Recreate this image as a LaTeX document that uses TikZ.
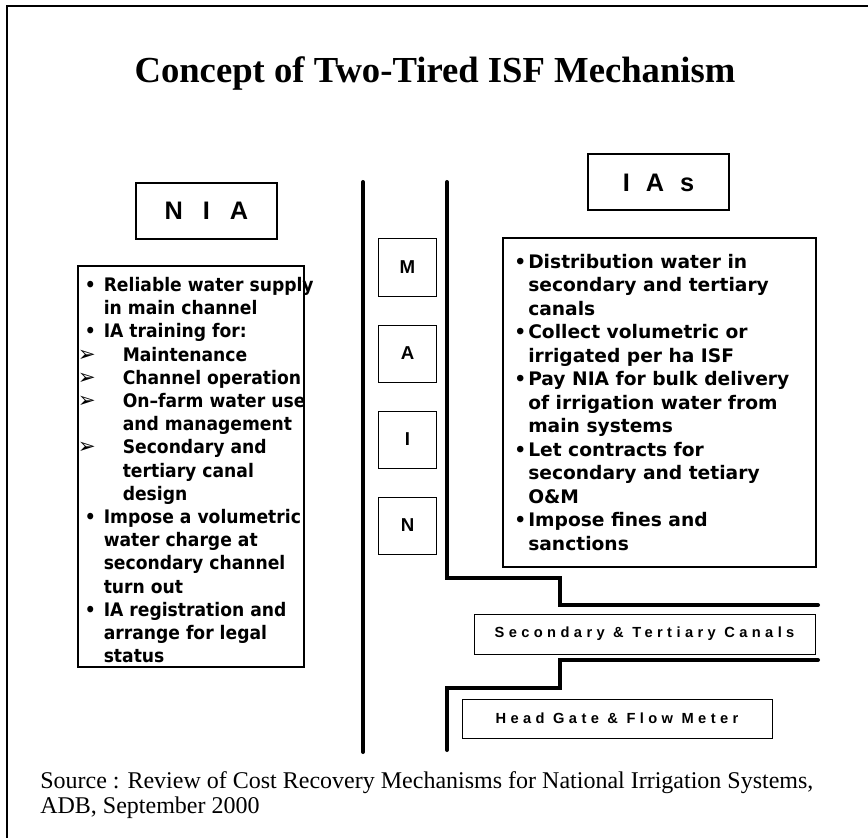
\documentclass[tikz,border=0pt]{standalone}
\usepackage{fontspec}
\setmainfont{Liberation Serif}
\newfontfamily\bodyfont{DejaVu Sans}
\newfontfamily\narrowfont[FakeStretch=0.92]{DejaVu Sans}
\newfontfamily\labelfont{Liberation Sans}
\newfontfamily\gapfont[LetterSpace=30]{Liberation Sans}
\usetikzlibrary{positioning}
\tikzset{node distance=21pt}
\tikzset{
  frame/.style={draw, line width=1.5pt},
  headbox/.style={draw, line width=1.5pt, minimum width=105.75pt, minimum height=42pt,
    font=\labelfont\bfseries\fontsize{19}{19}\selectfont},
  letterbox/.style={draw, line width=0.75pt, minimum width=43.5pt, minimum height=42.75pt,
    font=\labelfont\bfseries\fontsize{14}{14}\selectfont},
  listbox/.style={draw, line width=1.5pt, anchor=north west, inner sep=0pt},
  listtext/.style={anchor=north west, align=left, inner sep=0pt,
    font=\bodyfont\bfseries\fontsize{14}{17.6}\selectfont},
  canalbox/.style={draw, line width=0.75pt, inner sep=0pt,
    font=\gapfont\bfseries\fontsize{11}{11}\selectfont},
  wall/.style={line width=3pt, line cap=round}
}
\newcommand{\bitem}[1]{\hspace*{5.25pt}\makebox[14.25pt][l]{•}#1}
\newcommand{\bmore}[1]{\hspace*{19.5pt}#1}
\newcommand{\aitem}[1]{\makebox[33.75pt][l]{{\bodyfont\mdseries\fontsize{16}{16}\selectfont ➢}}#1}
\newcommand{\amore}[1]{\hspace*{33.75pt}#1}
\newcommand{\ritem}[1]{\makebox[10.5pt][l]{•}#1}
\newcommand{\rmore}[1]{\hspace*{10.5pt}#1}

\begin{document}
\begin{tikzpicture}[x=0.75pt,y=-0.75pt]
  \useasboundingbox (0,0) rectangle (868,838);
  \draw[frame] (7,6) rectangle (890,860);
  \node (title) at (435,73) {\fontsize{27.5}{30}\selectfont\bfseries Concept of Two-Tired ISF Mechanism};

  % the two tiers
  \node[headbox] (nia) at (206.5,211) {N\hspace{15pt}I\hspace{15pt}A};
  \node[headbox] (ias) at (658.5,182.5) {I\hspace{12pt}A\hspace{12pt}s};

  \node[listbox, minimum width=169.5pt, minimum height=301pt] (niabox) at (77,265) {};
  \node[listtext, font=\narrowfont\bfseries\fontsize{14}{17.4}\selectfont] (niatext) at (77.5,277) {%
    \bitem{Reliable water supply}\\
    \bmore{in main channel}\\
    \bitem{IA training for:}\\
    \aitem{Maintenance}\\
    \aitem{Channel operation}\\
    \aitem{On–farm water use}\\
    \amore{and management}\\
    \aitem{Secondary and}\\
    \amore{tertiary canal}\\
    \amore{design}\\
    \bitem{Impose a volumetric}\\
    \bmore{water charge at}\\
    \bmore{secondary channel}\\
    \bmore{turn out}\\
    \bitem{IA registration and}\\
    \bmore{arrange for legal}\\
    \bmore{status}};

  \node[listbox, minimum width=234.75pt, minimum height=246.75pt] (iasbox) at (502,237) {};
  \node[listtext] (iastext) at (514,254) {%
    \ritem{Distribution water in}\\
    \rmore{secondary and tertiary}\\
    \rmore{canals}\\
    \ritem{Collect volumetric or}\\
    \rmore{irrigated per ha ISF}\\
    \ritem{Pay NIA for bulk delivery}\\
    \rmore{of irrigation water from}\\
    \rmore{main systems}\\
    \ritem{Let contracts for}\\
    \rmore{secondary and tetiary}\\
    \rmore{O\&M}\\
    \ritem{Impose fines and}\\
    \rmore{sanctions}};

  % main canal
  \draw[wall] (363,182) -- (363,752);
  \draw[wall] (447,182) -- (447,578) -- (560,578) -- (560,605) -- (818,605);
  \draw[wall] (818,660) -- (560,660) -- (560,688) -- (447,688) -- (447,750);

  \node[letterbox] (m) at (407.5,267.5) {M};
  \node[letterbox] (a) [below=of m] {A};
  \node[letterbox] (i) [below=of a] {I};
  \node[letterbox] (n) [below=of i] {N};

  \node[canalbox, minimum width=255.75pt, minimum height=30pt] (canals) at (644.5,634) {Secondary \& Tertiary Canals};
  \node[canalbox, minimum width=232.5pt, minimum height=29.25pt] (gate) at (617,718.5) {Head Gate \& Flow Meter};

  \node[anchor=west, align=left, inner sep=0pt, font=\fontsize{18}{18.75}\selectfont] (source) at (40,795.5)
    {Source : Review of Cost Recovery Mechanisms for National Irrigation Systems,\\ADB, September 2000};
\end{tikzpicture}
\end{document}
